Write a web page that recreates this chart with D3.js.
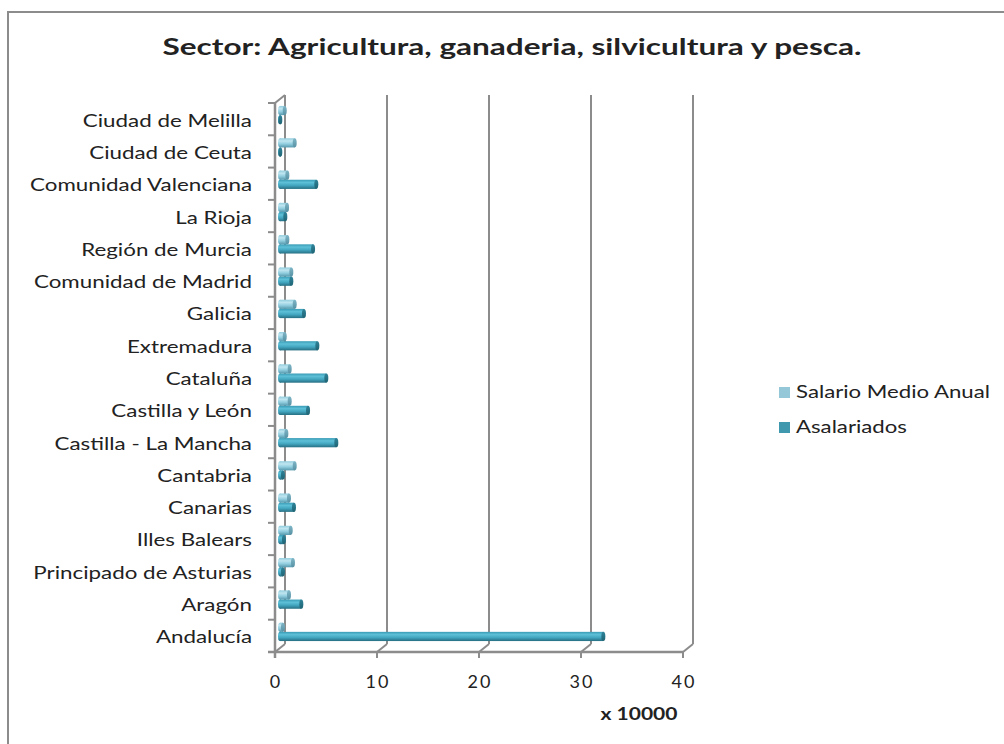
<!DOCTYPE html>
<html>
<head>
<meta charset="utf-8">
<script src="https://cdn.jsdelivr.net/npm/d3@7"></script>
<style>
  html, body { margin: 0; padding: 0; background: #fff; }
  svg { display: block; }
  text { font-family: Lato, "Open Sans", sans-serif; fill: #222; }
</style>
</head>
<body>
<svg id="chart" width="1004" height="744"></svg>
<script>
// Categories, bottom to top
const categories = [
  "Andalucía", "Aragón", "Principado de Asturias", "Illes Balears", "Canarias",
  "Cantabria", "Castilla - La Mancha", "Castilla y León", "Cataluña", "Extremadura",
  "Galicia", "Comunidad de Madrid", "Región de Murcia", "La Rioja",
  "Comunidad Valenciana", "Ciudad de Ceuta", "Ciudad de Melilla"
];
// values in units of x 10000
const salarioMedioAnual = [0.29, 0.88, 1.27, 1.05, 0.88, 1.44, 0.62, 0.95, 0.95, 0.46, 1.44, 1.11, 0.72, 0.69, 0.72, 1.44, 0.46];
const asalariados       = [31.7, 2.09, 0.29, 0.39, 1.37, 0.29, 5.52, 2.75, 4.54, 3.66, 2.35, 1.11, 3.24, 0.52, 3.56, 0.03, 0.03];
const seriesNames = ["Salario Medio Anual", "Asalariados"];
const xTicks = [0, 10, 20, 30, 40];
const titleText = "Sector: Agricultura, ganaderia, silvicultura y pesca.";
const unitLabel = "x 10000";

const svg = d3.select("#chart");
const defs = svg.append("defs");

// depth offset for the 3D look
const DX = 10, DY = -8;

const x = d3.scaleLinear().domain([0, 40]).range([275, 683]);
const y = d3.scaleBand().domain(categories).range([652, 103]);

// outer border
svg.append("rect").attr("x", 8).attr("y", 12).attr("width", 1010).attr("height", 750)
  .attr("fill", "none").attr("stroke", "#8c8c8c").attr("stroke-width", 2);

const natW = sel => sel.node().getComputedTextLength();
function stretch(sel, w) {
  sel.attr("textLength", w).attr("lengthAdjust", "spacingAndGlyphs");
}

// title
const title = svg.append("text").attr("x", 512).attr("y", 55)
  .attr("text-anchor", "middle").style("font-weight", "bold").style("font-size", "22px")
  .text(titleText);
stretch(title, 699);

const axisColor = "#8c8c8c";
const g = svg.append("g");

// back wall gridlines
g.selectAll("line.grid").data(xTicks).join("line")
  .attr("x1", d => x(d) + DX).attr("x2", d => x(d) + DX)
  .attr("y1", y.range()[1] + DY).attr("y2", y.range()[0] + DY)
  .attr("stroke", axisColor).attr("stroke-width", 2);

// floor diagonals
g.selectAll("line.diag").data(xTicks).join("line")
  .attr("x1", d => x(d)).attr("x2", d => x(d) + DX)
  .attr("y1", y.range()[0]).attr("y2", y.range()[0] + DY)
  .attr("stroke", axisColor).attr("stroke-width", 2);

// top-left diagonal
g.append("line").attr("x1", x(0)).attr("x2", x(0) + DX)
  .attr("y1", y.range()[1]).attr("y2", y.range()[1] + DY)
  .attr("stroke", axisColor).attr("stroke-width", 2);

// front vertical axis
g.append("line").attr("x1", x(0)).attr("x2", x(0))
  .attr("y1", y.range()[1]).attr("y2", y.range()[0] + 6)
  .attr("stroke", axisColor).attr("stroke-width", 2.5);
const bounds = categories.map(c => y(c)).concat([y.range()[0]]);
g.selectAll("line.ytick").data(bounds).join("line")
  .attr("x1", x(0) - 7).attr("x2", x(0))
  .attr("y1", d => d).attr("y2", d => d)
  .attr("stroke", axisColor).attr("stroke-width", 2);

// front floor line
g.append("line").attr("x1", x(0) - 7).attr("x2", x(40))
  .attr("y1", y.range()[0]).attr("y2", y.range()[0])
  .attr("stroke", axisColor).attr("stroke-width", 2.5);
g.selectAll("line.xtick").data(xTicks).join("line")
  .attr("x1", d => x(d)).attr("x2", d => x(d))
  .attr("y1", y.range()[0]).attr("y2", y.range()[0] + 6)
  .attr("stroke", axisColor).attr("stroke-width", 2);

// x tick labels
g.selectAll("text.xl").data(xTicks).join("text")
  .attr("x", d => x(d) + 1).attr("y", 688).attr("text-anchor", "middle")
  .style("font-size", "18px").style("letter-spacing", "2px").text(d => d);

// unit label
const unit = svg.append("text").attr("x", 639).attr("y", 720).attr("text-anchor", "middle")
  .style("font-weight", "bold").style("font-size", "16.5px").text(unitLabel);
stretch(unit, 77);

// category labels
const catLabels = g.selectAll("text.yl").data(categories).join("text")
  .attr("x", 252).attr("y", d => y(d) + y.bandwidth() / 2 + 7.5)
  .attr("text-anchor", "end").style("font-size", "17.5px").text(d => d);
{
  const ref = catLabels.filter(d => d === "Comunidad Valenciana");
  const k = 222 / natW(ref);
  catLabels.each(function () {
    const s = d3.select(this);
    stretch(s, natW(s) * k);
  });
}

// gradients for cylinders
function cylGrad(id, stops) {
  const lg = defs.append("linearGradient").attr("id", id)
    .attr("x1", 0).attr("y1", 0).attr("x2", 0).attr("y2", 1);
  stops.forEach(s => lg.append("stop").attr("offset", s[0]).attr("stop-color", s[1]));
}
cylGrad("gLight", [[0, "#92cddd"], [0.3, "#bfe5f0"], [0.6, "#93cfe0"], [1, "#5799ae"]]);
cylGrad("gDark", [[0, "#399cb5"], [0.3, "#5ec0d7"], [0.6, "#44a8c2"], [1, "#266f83"]]);
cylGrad("gLightCap", [[0, "#7fb6c7"], [1, "#5791a3"]]);
cylGrad("gDarkCap", [[0, "#2f8399"], [1, "#1f6474"]]);

const R = 4.6;
const series = [
  { name: seriesNames[0], values: salarioMedioAnual, off: -R, fill: "url(#gLight)", cap: "url(#gLightCap)", legend: "#94c7d7" },
  { name: seriesNames[1], values: asalariados, off: R, fill: "url(#gDark)", cap: "url(#gDarkCap)", legend: "#3f98ad" }
];

const bars = svg.append("g");
series.forEach(s => {
  const cy = (c) => y(c) + y.bandwidth() / 2 + DY / 2 + s.off;
  const x0 = x(0) + DX / 2;
  const grp = bars.append("g");
  const items = categories.map((c, i) => ({ c, v: s.values[i] }));
  grp.selectAll("ellipse.l").data(items).join("ellipse")
    .attr("cx", x0).attr("cy", d => cy(d.c)).attr("rx", 2).attr("ry", R)
    .attr("fill", s.fill);
  grp.selectAll("rect").data(items).join("rect")
    .attr("x", x0).attr("width", d => x(d.v) - x(0))
    .attr("y", d => cy(d.c) - R).attr("height", 2 * R)
    .attr("fill", s.fill);
  grp.selectAll("ellipse.r").data(items).join("ellipse")
    .attr("cx", d => x0 + x(d.v) - x(0)).attr("cy", d => cy(d.c)).attr("rx", 2).attr("ry", R)
    .attr("fill", s.cap);
});

// legend
const legend = svg.append("g");
let legK = 1;
series.forEach((s, i) => {
  const ly = 392 + i * 35;
  legend.append("rect").attr("x", 779).attr("y", ly - 5).attr("width", 11).attr("height", 11)
    .attr("fill", s.legend);
  const t = legend.append("text").attr("x", 796).attr("y", ly + 6)
    .style("font-size", "17.5px").text(s.name);
  if (i === 0) legK = 194 / natW(t);
  stretch(t, natW(t) * legK);
});
</script>
</body>
</html>
